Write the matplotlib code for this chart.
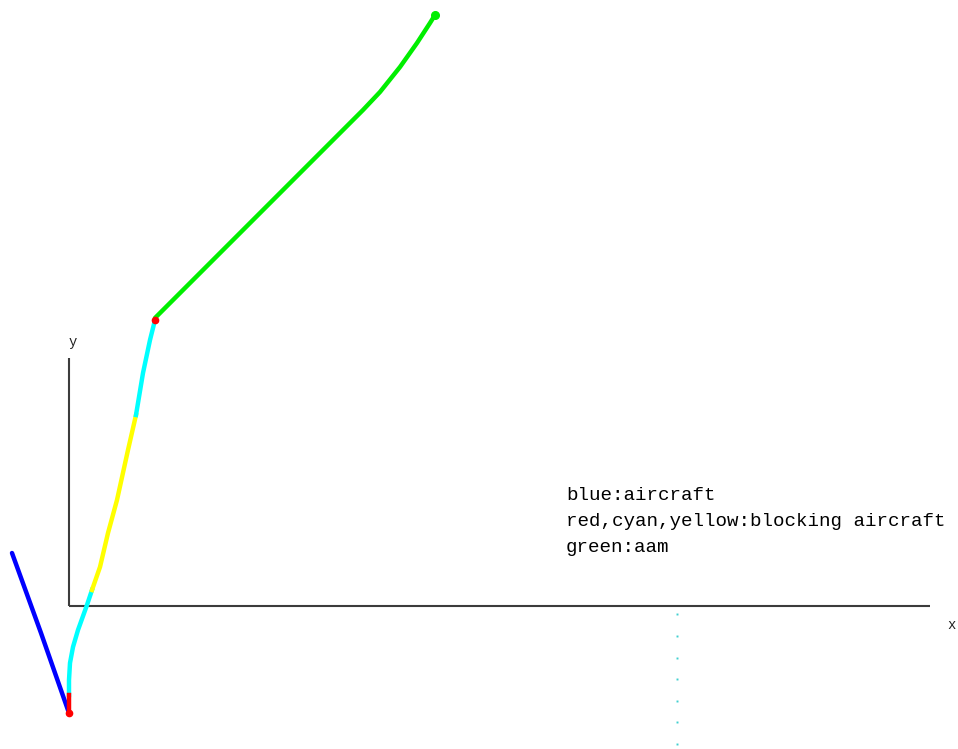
import numpy as np
import matplotlib
matplotlib.use('Agg')
import matplotlib.pyplot as plt

# track points (x, y) for each coloured stretch
aircraft_x = [-57, -28, 0]
aircraft_y = [53, -27, -107]

red_low_x = [0, 0]
red_low_y = [-107, -89]

cyan_low_x = [0, 0, 1, 4, 9, 18, 23]
cyan_low_y = [-89, -74, -57, -41, -24, 1, 16]

yellow_x = [23, 31, 39, 48, 59, 67]
yellow_y = [16, 39, 73, 106, 156, 191]

cyan_up_x = [67, 74, 81, 86]
cyan_up_y = [191, 233, 266, 286]

aam_x = [86, 241, 271, 294, 311, 331, 348, 361, 366]
aam_y = [288, 443, 473, 496, 514, 539, 563, 583, 591]

probe_x = 608
probe_y = [-8, -30, -52, -73, -95, -116, -138]

legend_lines = ['blue:aircraft', 'red,cyan,yellow:blocking aircraft', 'green:aam']

x_axis_len = 861
y_axis_len = 248

fig = plt.figure(figsize=(9.58, 7.49), dpi=100)
ax = fig.add_axes([0, 0, 1, 1])
ax.set_xlim(-69, 889)
ax.set_ylim(-143, 606)
ax.axis('off')

# axes drawn by hand
axc = '#3c3c3c'
ax.plot([0, x_axis_len], [0, 0], color=axc, lw=1.5, solid_capstyle='butt')
ax.plot([0, 0], [0, y_axis_len], color=axc, lw=1.5, solid_capstyle='butt')
ax.text(4, y_axis_len + 16, 'y', fontsize=10, family='Liberation Mono',
        ha='center', va='center', color='#202020')
ax.text(x_axis_len + 22, -19, 'x', fontsize=10, family='Liberation Mono',
        ha='center', va='center', color='#202020')

lw = 3.2
ax.plot(aircraft_x, aircraft_y, color='#0000ff', lw=lw, solid_capstyle='round')
ax.plot(cyan_low_x, cyan_low_y, color='#00ffff', lw=lw, solid_joinstyle='round')
ax.plot(yellow_x, yellow_y, color='#ffff00', lw=lw, solid_joinstyle='round')
ax.plot(cyan_up_x, cyan_up_y, color='#00ffff', lw=lw, solid_joinstyle='round')
ax.plot(aam_x, aam_y, color='#00ee00', lw=lw, solid_capstyle='round',
        solid_joinstyle='round')
ax.plot(aam_x[-1], aam_y[-1], 'o', color='#00ee00', ms=5.5)
ax.plot(red_low_x, red_low_y, color='#ff0000', lw=lw)
ax.plot(red_low_x[0], red_low_y[0], 'o', color='#ff0000', ms=4.5)
ax.plot(cyan_up_x[-1], cyan_up_y[-1], 'o', color='#ff0000', ms=4.5)

ax.plot([probe_x] * len(probe_y), probe_y, 's', color='#40d0d0', ms=1.4, mew=0)

for i, s in enumerate(legend_lines):
    ax.text(497, 110 - 25.5 * i, s, fontsize=13.8, family='Liberation Mono',
            ha='left', va='center', color='#000000')

fig.savefig('out.png', dpi=100)
